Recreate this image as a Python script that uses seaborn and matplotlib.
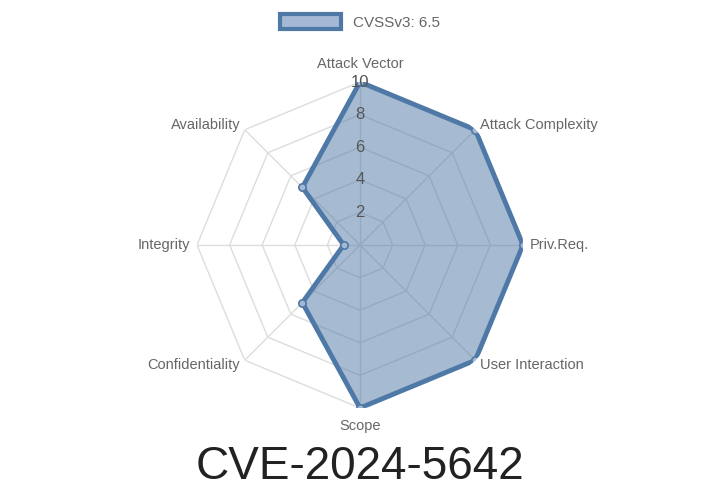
import numpy as np
import matplotlib
matplotlib.use("Agg")
import matplotlib.pyplot as plt
import seaborn as sb
from matplotlib.patches import Patch

categories = ['Attack Vector', 'Attack Complexity', 'Priv.Req.', 'User Interaction',
              'Scope', 'Confidentiality', 'Integrity', 'Availability']
scores = [10, 10, 10, 10, 10, 5, 1, 5]
series_name = 'CVSSv3: 6.5'
title = 'CVE-2024-5642'
rings = [2, 4, 6, 8, 10]

sb.set_style('white')
plt.rcParams['font.family'] = ['Liberation Sans', 'DejaVu Sans']

fig = plt.figure(figsize=(7.2, 5.04), dpi=100)
ax = fig.add_axes([0.2736, 0.1905, 0.4528, 0.6468], projection='polar')
ax.set_theta_offset(np.pi / 2)
ax.set_theta_direction(-1)

n = len(categories)
angles = np.linspace(0, 2 * np.pi, n, endpoint=False)
closed = np.append(angles, angles[0])

# polygon grid instead of circles
for r in rings:
    ax.plot(closed, [r] * (n + 1), color='#dddddd', lw=1, zorder=1)
for a in angles:
    ax.plot([a, a], [0, 10], color='#dddddd', lw=1, zorder=1)

vals = np.append(scores, scores[0])
col = '#4e79a7'
ax.fill(closed, vals, color=col, alpha=0.5, zorder=2)
ax.plot(closed, vals, color=col, lw=3.5, zorder=3)
ax.scatter(angles, scores, s=28, facecolor='#a5b8d4', edgecolor=col, lw=1.2, zorder=4)

ax.set_ylim(0, 10)
ax.grid(False)
ax.spines['polar'].set_visible(False)
ax.set_yticks([])
ax.set_xticks([])
ax.set_clip_on(False)

# category labels just outside the outer ring
for a, lab in zip(angles, categories):
    s = np.sin(a)
    ha = 'left' if s > 0.1 else ('right' if s < -0.1 else 'center')
    c = np.cos(a)
    va = 'bottom' if c > 0.9 else ('top' if c < -0.9 else 'center')
    ax.text(a, 10.7 if abs(c) > 0.9 else 10.4, lab, ha=ha, va=va, color='#666666',
            fontsize=10.5, clip_on=False)

for r in rings:
    ax.text(0, r, str(r), ha='center', va='center', color='#555555', fontsize=12, zorder=5)

fig.legend(handles=[Patch(facecolor='#a5b8d4', edgecolor=col, lw=3, label=series_name)],
           loc='upper center', bbox_to_anchor=(0.5, 1.0), frameon=False,
           fontsize=11, labelcolor='#666666', handlelength=4, handleheight=1.2)
fig.text(0.5, 0.03, title, ha='center', va='bottom', fontsize=33, color='#222222')

fig.savefig('out.png', dpi=100)
